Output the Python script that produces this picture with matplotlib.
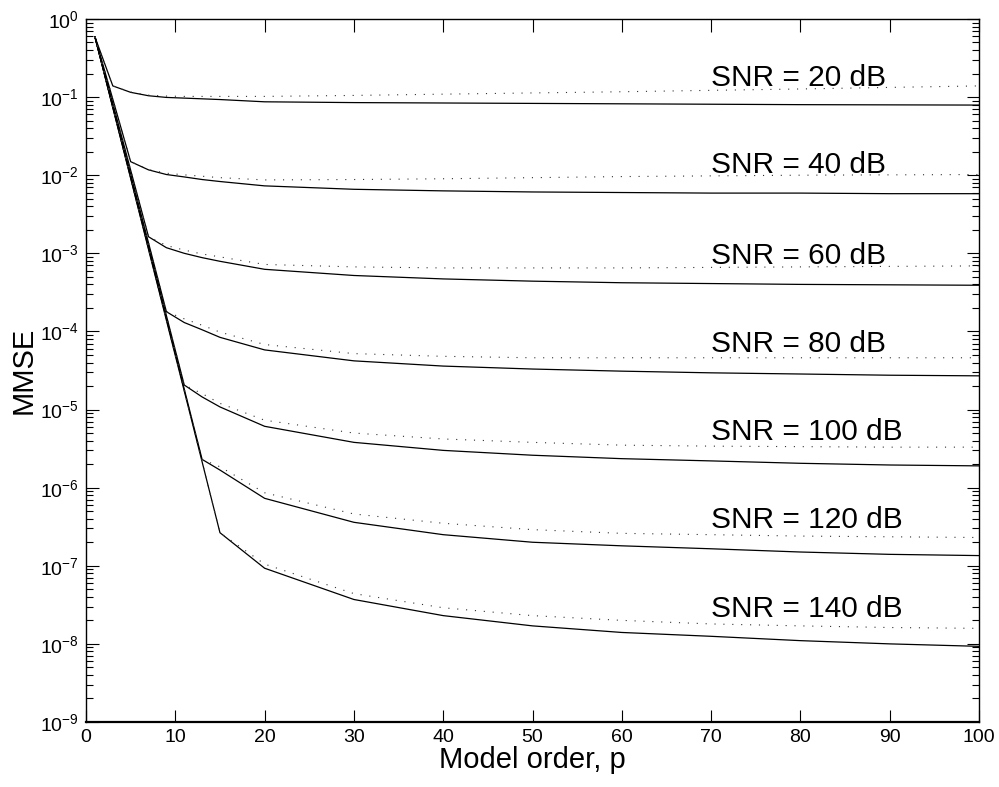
import matplotlib
matplotlib.use("Agg")
import matplotlib.pyplot as plt
from matplotlib.ticker import LogLocator, NullFormatter, FixedLocator

# model orders where the MMSE was evaluated
model_order = [1, 3, 5, 7, 9, 11, 13, 15, 20, 30, 40, 50, 60, 70, 80, 90, 100]

snr_db = [20, 40, 60, 80, 100, 120, 140]

# solid curves
mmse_20 = [0.59, 0.139, 0.115, 0.104, 0.099, 0.097, 0.095, 0.093, 0.087,
           0.085, 0.084, 0.083, 0.082, 0.081, 0.080, 0.0795, 0.079]
mmse_40 = [0.59, 0.094, 0.0149, 0.0117, 0.0102, 0.0095, 0.0088, 0.0083, 0.0073,
           0.0066, 0.0063, 0.0061, 0.0060, 0.0059, 0.0059, 0.0058, 0.0058]
mmse_60 = [0.59, 0.083, 0.0116, 1.63e-3, 1.18e-3, 1.00e-3, 8.8e-4, 7.9e-4, 6.24e-4,
           5.2e-4, 4.7e-4, 4.4e-4, 4.2e-4, 4.1e-4, 4.0e-4, 3.95e-4, 3.9e-4]
mmse_80 = [0.59, 0.078, 0.0103, 1.36e-3, 1.79e-4, 1.30e-4, 1.05e-4, 8.4e-5, 5.8e-5,
           4.2e-5, 3.6e-5, 3.3e-5, 3.1e-5, 2.95e-5, 2.85e-5, 2.75e-5, 2.7e-5]
mmse_100 = [0.59, 0.076, 9.7e-3, 1.25e-3, 1.6e-4, 2.06e-5, 1.45e-5, 1.08e-5, 6.1e-6,
            3.8e-6, 3.0e-6, 2.6e-6, 2.35e-6, 2.2e-6, 2.05e-6, 1.95e-6, 1.9e-6]
mmse_120 = [0.59, 0.074, 9.3e-3, 1.16e-3, 1.46e-4, 1.83e-5, 2.3e-6, 1.68e-6, 7.3e-7,
            3.6e-7, 2.5e-7, 2.0e-7, 1.8e-7, 1.65e-7, 1.5e-7, 1.4e-7, 1.35e-7]
mmse_140 = [0.59, 0.073, 9.1e-3, 1.12e-3, 1.39e-4, 1.73e-5, 2.14e-6, 2.65e-7, 9.3e-8,
            3.7e-8, 2.3e-8, 1.7e-8, 1.4e-8, 1.25e-8, 1.1e-8, 1.0e-8, 9.3e-9]

# dotted curves
bound_20 = [0.59, 0.139, 0.116, 0.106, 0.103, 0.102, 0.102, 0.102, 0.102,
            0.105, 0.109, 0.113, 0.117, 0.122, 0.127, 0.133, 0.139]
bound_40 = [0.59, 0.094, 0.0149, 0.0118, 0.0106, 0.0101, 0.0097, 0.0093, 0.0087,
            0.0088, 0.0090, 0.0093, 0.0096, 0.0098, 0.0100, 0.0101, 0.0102]
bound_60 = [0.59, 0.083, 0.0116, 1.63e-3, 1.26e-3, 1.10e-3, 9.8e-4, 9.0e-4, 7.2e-4,
            6.7e-4, 6.5e-4, 6.5e-4, 6.5e-4, 6.6e-4, 6.7e-4, 6.8e-4, 6.9e-4]
bound_80 = [0.59, 0.078, 0.0103, 1.36e-3, 1.79e-4, 1.45e-4, 1.20e-4, 9.8e-5, 6.8e-5,
            5.2e-5, 4.8e-5, 4.6e-5, 4.6e-5, 4.6e-5, 4.6e-5, 4.6e-5, 4.6e-5]
bound_100 = [0.59, 0.076, 9.7e-3, 1.25e-3, 1.6e-4, 2.06e-5, 1.6e-5, 1.2e-5, 7.3e-6,
             5.0e-6, 4.2e-6, 3.8e-6, 3.5e-6, 3.4e-6, 3.35e-6, 3.3e-6, 3.3e-6]
bound_120 = [0.59, 0.074, 9.3e-3, 1.16e-3, 1.46e-4, 1.83e-5, 2.3e-6, 1.85e-6, 8.6e-7,
             4.6e-7, 3.5e-7, 2.9e-7, 2.6e-7, 2.5e-7, 2.4e-7, 2.35e-7, 2.3e-7]
bound_140 = [0.59, 0.073, 9.1e-3, 1.12e-3, 1.39e-4, 1.73e-5, 2.14e-6, 2.65e-7, 1.05e-7,
             4.4e-8, 2.9e-8, 2.3e-8, 2.0e-8, 1.8e-8, 1.7e-8, 1.62e-8, 1.58e-8]

solid_curves = [mmse_20, mmse_40, mmse_60, mmse_80, mmse_100, mmse_120, mmse_140]
dotted_curves = [bound_20, bound_40, bound_60, bound_80, bound_100, bound_120, bound_140]

# where the SNR labels sit (x in model order, y in MMSE)
label_x = 70
label_y = [0.14, 0.0107, 7.4e-4, 5.5e-5, 4.1e-6, 3.0e-7, 2.2e-8]

plt.rcParams.update({
    'font.family': 'Liberation Sans',
    'mathtext.fontset': 'custom',
    'mathtext.rm': 'Liberation Sans',
    'mathtext.it': 'Liberation Sans',
    'mathtext.default': 'regular',
})

fig = plt.figure(figsize=(9.99, 7.87), dpi=100)
ax = fig.add_axes([0.0861, 0.0826, 0.8939, 0.8933])

for ys in solid_curves:
    ax.plot(model_order, ys, color='black', linewidth=0.9)
for ys in dotted_curves:
    ax.plot(model_order, ys, color='#333333', linewidth=0.8,
            linestyle=(0, (1, 7)))

for snr, ly in zip(snr_db, label_y):
    ax.text(label_x, ly, f'SNR = {snr} dB', fontsize=21.5,
            ha='left', va='baseline')

ax.set_yscale('log')
ax.set_xlim(0, 100)
ax.set_ylim(1e-9, 1e0)
ax.xaxis.set_major_locator(FixedLocator(range(0, 101, 10)))
ax.yaxis.set_major_locator(LogLocator(base=10, numticks=20))
ax.yaxis.set_minor_locator(LogLocator(base=10, subs=range(2, 10), numticks=20))
ax.yaxis.set_minor_formatter(NullFormatter())

ax.tick_params(which='both', direction='in', top=True, right=True,
               labelsize=14, width=0.8)
ax.tick_params(which='major', length=9)
ax.tick_params(which='minor', length=5)
ax.tick_params(axis='x', pad=5)
ax.tick_params(axis='y', pad=5)

for side in ['top', 'right', 'left']:
    ax.spines[side].set_linewidth(1.0)
ax.spines['bottom'].set_linewidth(1.6)

ax.set_xlabel('Model order, p', fontsize=21, labelpad=0)
ax.set_ylabel('MMSE', fontsize=21, labelpad=2)

fig.savefig('out.png', dpi=100, facecolor='white')
